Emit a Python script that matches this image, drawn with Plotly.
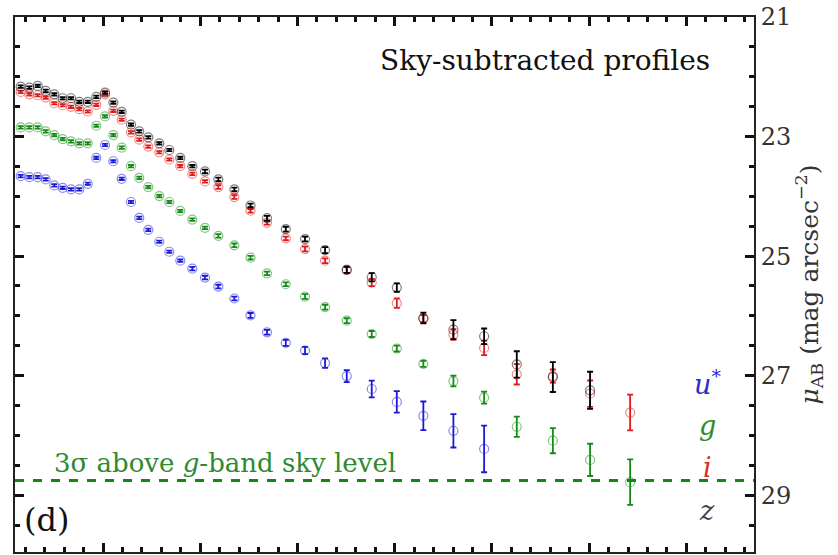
import plotly.graph_objects as go

# radius coordinate (axis units; major ticks every 1)
r = [0.153, 0.242, 0.328, 0.410, 0.499, 0.585, 0.671, 0.756, 0.843, 0.931,
     1.021, 1.106, 1.192, 1.288, 1.373, 1.466, 1.579, 1.682, 1.795, 1.919,
     2.049, 2.186, 2.351, 2.517, 2.687, 2.880, 3.078, 3.284, 3.507, 3.764,
     4.022, 4.295, 4.604, 4.920, 5.256, 5.627, 6.010, 6.422]

mu_u = [23.662, 23.679, 23.679, 23.717, 23.817, 23.857, 23.884, 23.884, 23.790, 23.358,
        23.141, 23.413, 23.707, 24.095, 24.361, 24.561, 24.760, 24.927, 25.077, 25.210,
        25.359, 25.509, 25.709, 25.992, 26.275, 26.453, 26.579, 26.790, 27.007, 27.223,
        27.439, 27.672, 27.922, 28.226]
err_u = [0.02, 0.02, 0.02, 0.02, 0.02, 0.02, 0.02, 0.02, 0.02, 0.02,
         0.02, 0.02, 0.02, 0.02, 0.02, 0.02, 0.02, 0.02, 0.02, 0.03,
         0.03, 0.03, 0.03, 0.04, 0.04, 0.05, 0.06, 0.08, 0.10, 0.14,
         0.18, 0.24, 0.28, 0.39]

mu_g = [22.847, 22.847, 22.847, 22.913, 22.975, 23.042, 23.080, 23.113, 23.113, 22.819,
        22.664, 22.975, 23.185, 23.496, 23.691, 23.845, 23.995, 24.095, 24.245, 24.389,
        24.527, 24.661, 24.819, 25.027, 25.288, 25.471, 25.676, 25.854, 26.080, 26.303,
        26.546, 26.802, 27.090, 27.368, 27.855, 28.088, 28.409, 28.782]
err_g = [0.02, 0.02, 0.02, 0.02, 0.02, 0.02, 0.02, 0.02, 0.02, 0.02,
         0.02, 0.02, 0.02, 0.02, 0.02, 0.02, 0.02, 0.02, 0.02, 0.02,
         0.02, 0.03, 0.03, 0.03, 0.03, 0.03, 0.04, 0.04, 0.04, 0.05,
         0.05, 0.05, 0.09, 0.10, 0.17, 0.21, 0.27, 0.38]

mu_i = [22.253, 22.293, 22.309, 22.348, 22.443, 22.476, 22.502, 22.542, 22.581, 22.469,
        22.293, 22.569, 22.719, 22.930, 23.052, 23.168, 23.263, 23.384, 23.496, 23.624,
        23.750, 23.845, 24.012, 24.241, 24.444, 24.705, 24.882, 25.077, 25.231, 25.443,
        25.787, 26.047, 26.313, 26.536, 26.978, 27.007, 27.301, 27.617]
err_i = [0.02, 0.02, 0.02, 0.02, 0.02, 0.02, 0.02, 0.02, 0.02, 0.02,
         0.02, 0.02, 0.02, 0.02, 0.02, 0.02, 0.02, 0.02, 0.02, 0.02,
         0.02, 0.03, 0.03, 0.03, 0.03, 0.03, 0.04, 0.04, 0.05, 0.06,
         0.08, 0.06, 0.09, 0.12, 0.17, 0.11, 0.22, 0.30]

mu_z = [22.165, 22.181, 22.153, 22.236, 22.293, 22.359, 22.359, 22.419, 22.419, 22.336,
        22.265, 22.431, 22.586, 22.802, 22.913, 23.013, 23.113, 23.225, 23.358, 23.496,
        23.584, 23.717, 23.884, 24.153, 24.366, 24.549, 24.715, 24.899, 25.231, 25.354,
        25.526, 26.037, 26.230, 26.341, 26.812, 27.023, 27.245]
err_z = [0.02, 0.02, 0.02, 0.02, 0.02, 0.02, 0.02, 0.02, 0.02, 0.02,
         0.02, 0.02, 0.02, 0.02, 0.02, 0.02, 0.02, 0.02, 0.02, 0.02,
         0.03, 0.03, 0.03, 0.03, 0.04, 0.04, 0.04, 0.05, 0.05, 0.07,
         0.07, 0.09, 0.16, 0.13, 0.22, 0.25, 0.31]

sky_3sigma_g = 28.754

bands = [
    ("u*", mu_u, err_u, "#1a1ad6", "rgba(40,40,230,0.55)"),
    ("g", mu_g, err_g, "#168a16", "rgba(30,150,30,0.55)"),
    ("i", mu_i, err_i, "#e01a1a", "rgba(235,40,40,0.55)"),
    ("z", mu_z, err_z, "#000000", "rgba(0,0,0,0.5)"),
]

fig = go.Figure()
for name, mu, err, col, lcol in bands:
    fig.add_trace(go.Scatter(
        x=r[:len(mu)], y=mu, mode="markers", name=name,
        marker=dict(symbol="circle-open", size=9, color=lcol, line=dict(width=1.2)),
        error_y=dict(type="data", array=err, visible=True, color=col,
                     thickness=1.8, width=3),
        showlegend=False,
    ))

fig.add_shape(type="line", xref="paper", x0=0, x1=1, yref="y",
              y0=sky_3sigma_g, y1=sky_3sigma_g,
              line=dict(color="#138613", width=3, dash="dash"))

serif = "DejaVu Serif"
ann = [
    dict(text="Sky-subtracted profiles", x=0.943, y=0.918, xanchor="right",
         yanchor="middle", font=dict(size=28, color="#111111")),
    dict(text="3σ above <i>g</i>-band sky level", x=0.05, y=0.167, xanchor="left",
         yanchor="middle", font=dict(size=26, color="#2f8a2f")),
    dict(text="(d)", x=0.0095, y=0.0595, xanchor="left", yanchor="middle",
         font=dict(size=32, color="#111111")),
    dict(text="<i>u</i><sup>*</sup>", x=0.937, y=0.316, xanchor="center",
         yanchor="middle", font=dict(size=27, color="#2a2ad0")),
    dict(text="<i>g</i>", x=0.937, y=0.236, xanchor="center", yanchor="middle",
         font=dict(size=27, color="#2f8a2f")),
    dict(text="<i>i</i>", x=0.937, y=0.158, xanchor="center", yanchor="middle",
         font=dict(size=27, color="#e02a2a")),
    dict(text="<i>z</i>", x=0.937, y=0.078, xanchor="center", yanchor="middle",
         font=dict(size=27, color="#444444")),
]
for a in ann:
    fig.add_annotation(xref="paper", yref="paper", showarrow=False, **a)

fig.update_layout(
    width=838, height=555,
    margin=dict(l=15, r=84, t=14, b=3),
    paper_bgcolor="white", plot_bgcolor="white",
    font=dict(family=serif, color="#222222"),
    xaxis=dict(range=[0.0947, 7.696], showgrid=False, zeroline=False,
               showline=True, linecolor="#222", linewidth=2, mirror="allticks",
               ticks="inside", tick0=0, dtick=1, ticklen=9, tickwidth=3,
               tickcolor="#111", showticklabels=False,
               minor=dict(ticks="inside", dtick=0.2, tick0=0, ticklen=5,
                          tickwidth=3, tickcolor="#111", showgrid=False)),
    yaxis=dict(range=[29.95, 21], side="right", showgrid=False, zeroline=False,
               showline=True, linecolor="#222", linewidth=2, mirror="allticks",
               ticks="inside", tick0=21, dtick=2, ticklen=9, tickwidth=3,
               tickcolor="#111", tickfont=dict(size=24, color="#333"),
               ticklabeloverflow="allow",
               title=dict(text="<i>μ</i><sub>AB</sub> (mag arcsec<sup>−2</sup>)",
                          font=dict(size=25, color="#333"), standoff=6),
               minor=dict(ticks="inside", dtick=0.5, tick0=21, ticklen=5,
                          tickwidth=3, tickcolor="#111", showgrid=False)),
)

fig.write_html("out.html")
